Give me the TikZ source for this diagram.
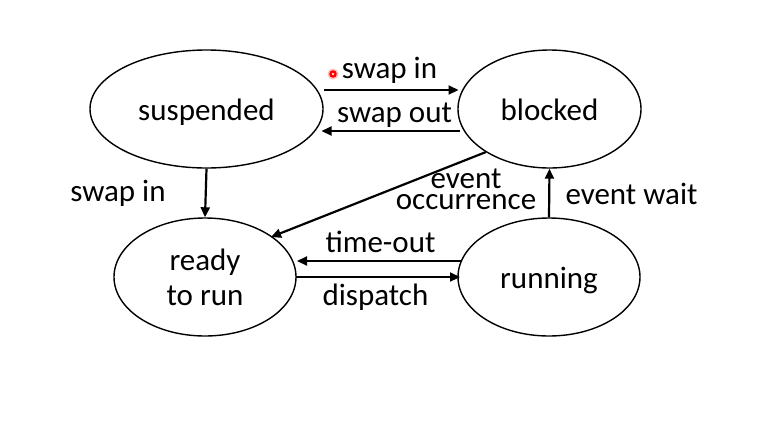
\documentclass[tikz,border=0pt]{standalone}
\usepackage{fontspec}
\setmainfont{Carlito}
\usetikzlibrary{arrows.meta,calc,shapes.geometric}
\begin{document}
\begin{tikzpicture}[x=1pt,y=-1pt,
  state/.style={ellipse,draw,line width=1.4pt,inner sep=0pt,align=center,font=\fontsize{31}{35}\selectfont},
  onel/.style={text height=22pt,text depth=0pt},
  lbl/.style={font=\fontsize{31}{35}\selectfont,inner sep=0pt,anchor=base},
  conn/.style={line width=2.2pt,-{Triangle[length=10pt,width=9pt]}}]
\useasboundingbox[fill=white] (0,0) rectangle (758,429);
\node[state,onel,minimum width=233pt,minimum height=118pt] (susp) at (206.5,109) {suspended};
\node[state,onel,minimum width=183pt,minimum height=118pt] (blk) at (549.5,109) {blocked};
\node[state,minimum width=182pt,minimum height=118pt] (ready) at (205,277) {ready\\to run};
\node[state,onel,minimum width=182pt,minimum height=118pt] (run) at (549,277) {running};
% connectors
\coordinate (si1) at ($(susp.center)+(117.5,-19)$);
\coordinate (si2) at ($(blk.center)+(-91,-19)$);
\draw[conn] (si1) -- (si2);
\coordinate (so1) at ($(blk.center)+(-90,22)$);
\coordinate (so2) at ($(susp.center)+(115,22)$);
\draw[conn] (so1) -- (so2);
\draw[conn] (susp.south) -- (ready.north);
\coordinate (eo1) at ($(blk.center)+(-63.5,43)$);
\coordinate (eo2) at ($(ready.center)+(66,-40)$);
\draw[conn] (eo1) -- (eo2);
\draw[conn] (run.north) -- (blk.south);
\coordinate (to1) at ($(run.center)+(-88,-16)$);
\coordinate (to2) at ($(ready.center)+(92,-16)$);
\draw[conn] (to1) -- (to2);
\coordinate (dp1) at ($(ready.center)+(91,0)$);
\coordinate (dp2) at ($(run.center)+(-89,0)$);
\draw[conn] (dp1) -- (dp2);
% labels
\node[lbl] (lsi) at (389.5,78) {swap in};
\node[lbl] (lso) at (394.5,122) {swap out};
\node[lbl] (lsi2) at (118,201) {swap in};
\node[lbl] (lev) at (466,188) {event};
\node[lbl] (loc) at (466,209) {occurrence};
\node[lbl] (lew) at (631.5,204) {event wait};
\node[lbl] (lto) at (380.5,252) {time-out};
\node[lbl] (ldp) at (375.5,305) {dispatch};
% pointer dot
\fill[red!25] (333,74) circle (5.5pt);
\fill[red] (333,74) circle (3.8pt);
\fill[red!15] (333,74) circle (1.4pt);
\end{tikzpicture}
\end{document}
